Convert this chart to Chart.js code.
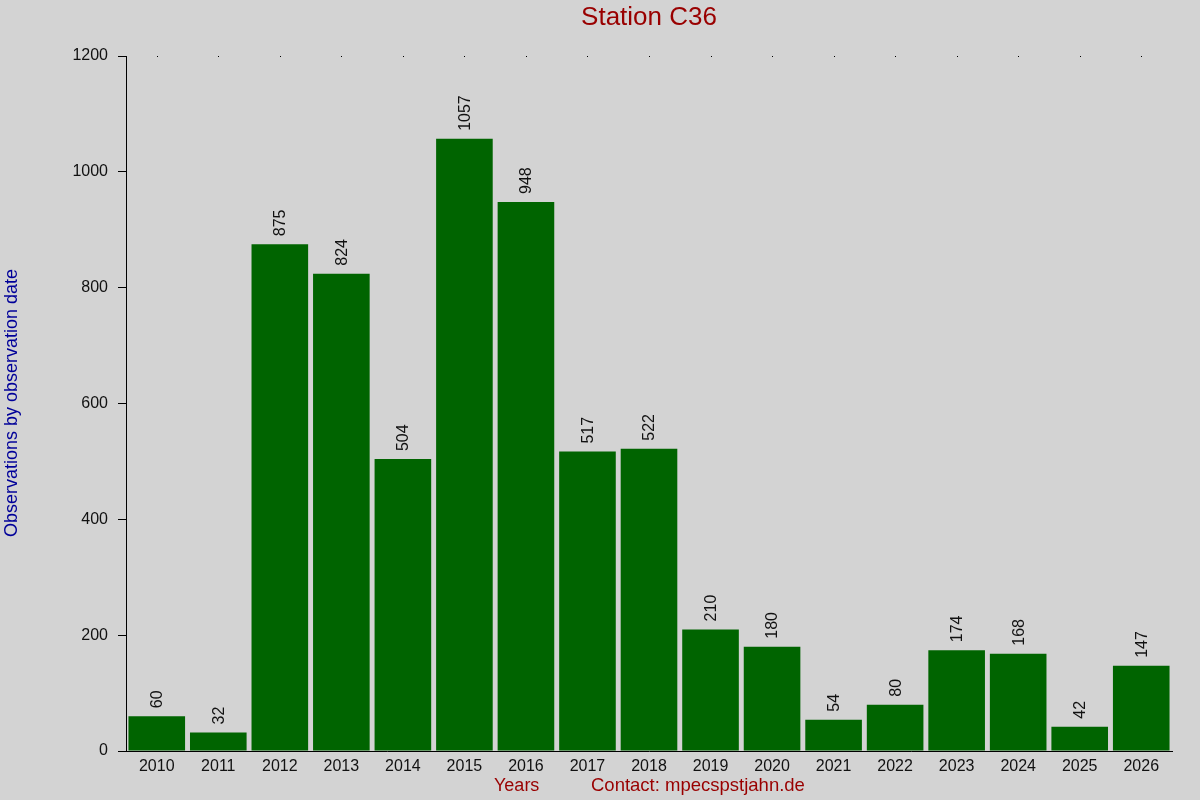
<!DOCTYPE html>
<html>
<head>
<meta charset="utf-8">
<script src="https://cdn.jsdelivr.net/npm/chart.js@4/dist/chart.umd.min.js"></script>
<style>
  html, body { margin: 0; padding: 0; background: #d3d3d3; }
  #wrap { width: 1200px; height: 800px; }
</style>
</head>
<body>
<div id="wrap"><canvas id="stationChart"></canvas></div>
<script>
const years = ['2010', '2011', '2012', '2013', '2014', '2015', '2016', '2017', '2018',
    '2019', '2020', '2021', '2022', '2023', '2024', '2025', '2026'];
const observations = [60, 32, 875, 824, 504, 1057, 948, 517, 522,
    210, 180, 54, 80, 174, 168, 42, 147];
const yTicks = [0, 200, 400, 600, 800, 1000, 1200];

const fontFamily = '"Liberation Sans", Arial, sans-serif';
const darkRed = '#990000';

// value labels above the bars, rotated
const valueLabels = {
    id: 'valueLabels',
    afterDatasetsDraw(chart) {
        const ctx = chart.ctx;
        const meta = chart.getDatasetMeta(0);
        ctx.save();
        ctx.font = '16px ' + fontFamily;
        ctx.fillStyle = '#111';
        ctx.textAlign = 'left';
        ctx.textBaseline = 'middle';
        meta.data.forEach((bar, i) => {
            ctx.save();
            ctx.translate(bar.x + 1, bar.y - 8);
            ctx.rotate(-Math.PI / 2);
            ctx.fillText(String(observations[i]), 0, 0);
            ctx.restore();
        });
        ctx.restore();
    }
};

// titles and the little dots along the top edge
const decorations = {
    id: 'decorations',
    afterDraw(chart) {
        const ctx = chart.ctx;
        const x = chart.scales.x;
        const area = chart.chartArea;
        ctx.save();
        ctx.fillStyle = '#000';
        years.forEach((y, i) => {
            ctx.fillRect(Math.round(x.getPixelForValue(i)), area.top, 1, 1);
        });

        ctx.textBaseline = 'middle';
        ctx.textAlign = 'center';
        ctx.fillStyle = darkRed;
        ctx.font = '26px ' + fontFamily;
        ctx.fillText('Station C36', 649, 18);

        ctx.font = '18px ' + fontFamily;
        ctx.textAlign = 'left';
        ctx.fillText('Years', 494, 786);
        ctx.font = '18.5px ' + fontFamily;
        ctx.fillText('Contact: mpecspstjahn.de', 591, 786);

        ctx.font = '18px ' + fontFamily;
        ctx.fillStyle = '#000099';
        ctx.translate(12, 403);
        ctx.rotate(-Math.PI / 2);
        ctx.textAlign = 'center';
        ctx.fillText('Observations by observation date', 0, 0);
        ctx.restore();
    }
};

const config = {
    type: 'bar',
    data: {
        labels: years,
        datasets: [{
            data: observations,
            backgroundColor: '#006400',
            borderWidth: 0,
            barPercentage: 0.92,
            categoryPercentage: 1.0
        }]
    },
    options: {
        responsive: true,
        maintainAspectRatio: false,
        animation: false,
        layout: {
            padding: { left: 0, right: 28, top: 56, bottom: 0 }
        },
        plugins: {
            legend: { display: false },
            title: { display: false },
            tooltip: { enabled: false }
        },
        scales: {
            x: {
                grid: { display: false, drawOnChartArea: false, drawTicks: false },
                border: { display: true, color: '#000', width: 1 },
                ticks: {
                    color: '#111',
                    font: { family: fontFamily, size: 16 },
                    padding: 6,
                    maxRotation: 0
                },
                afterFit(scale) { scale.height = 49; }
            },
            y: {
                min: 0,
                max: 1200,
                afterBuildTicks(scale) {
                    scale.ticks = yTicks.map(v => ({ value: v }));
                },
                grid: {
                    drawOnChartArea: false,
                    drawTicks: true,
                    tickLength: 8,
                    color: '#000'
                },
                border: { display: true, color: '#000', width: 1 },
                ticks: {
                    color: '#111',
                    font: { family: fontFamily, size: 16 },
                    padding: 10,
                    callback: v => String(v)
                },
                afterFit(scale) { scale.width = 126; }
            }
        }
    },
    plugins: [valueLabels, decorations]
};

const stationChart = new Chart(
    document.getElementById('stationChart').getContext('2d'),
    config
);
</script>
</body>
</html>
